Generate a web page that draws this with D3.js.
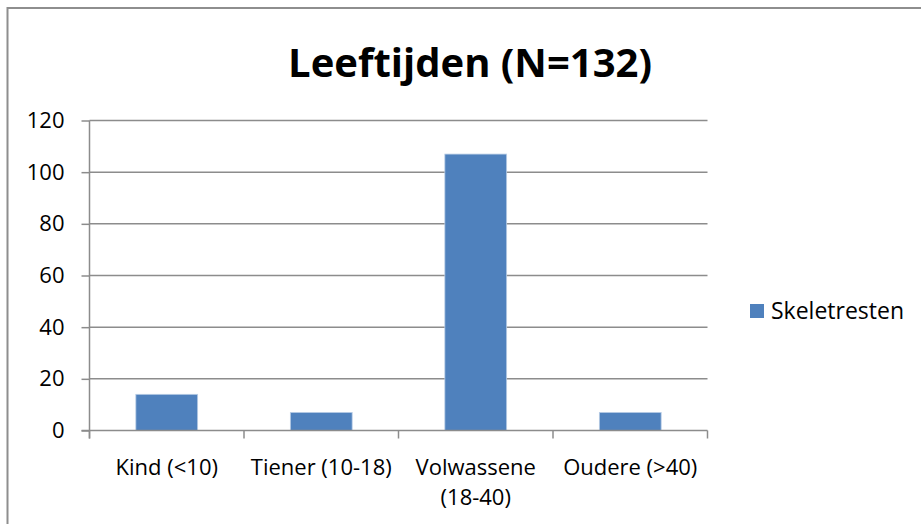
<!DOCTYPE html>
<html lang="nl">
<head>
	<meta charset="utf-8">
	<title>Leeftijden</title>
	<script src="https://d3js.org/d3.v7.min.js"></script>
	<style type="text/css">
		body { margin: 0; background: #fff; }
		text { font-family: "Open Sans", sans-serif; fill: #000; }
		.axis text { font-size: 22px; }
	</style>
</head>
<body>
	<script type="text/javascript">
	// data
	var categories = ["Kind (<10)", "Tiener (10-18)", "Volwassene (18-40)", "Oudere (>40)"]
	var values = [14, 7, 107, 7]
	var yTicks = [0, 20, 40, 60, 80, 100, 120]
	var seriesName = "Skeletresten"
	var title = "Leeftijden (N=132)"

	var barColor = "#4f81bd"
	var gridColor = "#8c8c8c"

	var w = 921, h = 524
	var plotLeft = 89.5, plotRight = 707.5, plotTop = 120.5, plotBottom = 430.5

	var svg = d3.select("body").append("svg")
		.attr("width", w)
		.attr("height", h)

	// outer frame
	svg.append("rect")
		.attr("x", 7.5).attr("y", 8)
		.attr("width", w + 10).attr("height", h + 10)
		.attr("fill", "none")
		.attr("stroke", "#8e8e8e")
		.attr("stroke-width", 2)

	var xScale = d3.scaleBand().domain(categories).range([plotLeft, plotRight]).paddingInner(0.6).paddingOuter(0.3)
	var xBand = d3.scaleBand().domain(categories).range([plotLeft, plotRight])
	var yScale = d3.scaleLinear().domain([0, 120]).range([plotBottom, plotTop])

	// gridlines
	svg.append("g")
		.selectAll("line")
		.data(yTicks.filter(d => d > 0))
		.enter()
		.append("line")
		.attr("x1", plotLeft).attr("x2", plotRight)
		.attr("y1", d => yScale(d)).attr("y2", d => yScale(d))
		.attr("stroke", gridColor)
		.attr("stroke-width", 1.5)

	// bars
	svg.append("g")
		.selectAll("rect")
		.data(values)
		.enter()
		.append("rect")
		.attr("x", (d, i) => xScale(categories[i]))
		.attr("y", d => yScale(d))
		.attr("width", xScale.bandwidth())
		.attr("height", d => plotBottom - yScale(d))
		.attr("fill", barColor)
		.attr("stroke", "#b9cde5")
		.attr("stroke-width", 0.8)

	// y axis
	var yAxis = d3.axisLeft(yScale).tickValues(yTicks).tickSize(8).tickPadding(17)
	var gy = svg.append("g")
		.attr("class", "axis")
		.attr("transform", "translate(" + plotLeft + ",0)")
		.call(yAxis)
	gy.select(".domain").remove()
	gy.selectAll("line").attr("stroke", gridColor).attr("stroke-width", 1.5)
	gy.selectAll("text").attr("fill", "#000")
	svg.append("line")
		.attr("x1", plotLeft).attr("x2", plotLeft)
		.attr("y1", plotTop).attr("y2", plotBottom + 8)
		.attr("stroke", gridColor).attr("stroke-width", 1.5)

	// x axis
	svg.append("line")
		.attr("x1", plotLeft - 8).attr("x2", plotRight)
		.attr("y1", plotBottom).attr("y2", plotBottom)
		.attr("stroke", gridColor).attr("stroke-width", 1.5)
	var tickXs = categories.map(c => xBand(c)).concat([plotRight])
	svg.append("g")
		.selectAll("line")
		.data(tickXs)
		.enter()
		.append("line")
		.attr("x1", d => d).attr("x2", d => d)
		.attr("y1", plotBottom).attr("y2", plotBottom + 8)
		.attr("stroke", gridColor).attr("stroke-width", 1.5)

	// x labels (Volwassene wraps)
	var labelLines = [["Kind (<10)"], ["Tiener (10-18)"], ["Volwassene", "(18-40)"], ["Oudere (>40)"]]
	var xl = svg.append("g").attr("class", "axis")
	labelLines.forEach(function(lines, i) {
		var cx = xBand(categories[i]) + xBand.bandwidth() / 2
		var t = xl.append("text")
			.attr("x", cx)
			.attr("y", 475)
			.attr("text-anchor", "middle")
		lines.forEach(function(l, j) {
			t.append("tspan")
				.attr("x", cx)
				.attr("dy", j === 0 ? 0 : 30)
				.text(l)
		})
	})

	// title
	svg.append("text")
		.attr("x", 470)
		.attr("y", 77)
		.attr("text-anchor", "middle")
		.style("font-size", "40px")
		.style("font-weight", "bold")
		.text(title)

	// legend
	svg.append("rect")
		.attr("x", 750).attr("y", 304)
		.attr("width", 14).attr("height", 14)
		.attr("fill", barColor)
	svg.append("text")
		.attr("x", 771).attr("y", 319)
		.style("font-size", "23px")
		.text(seriesName)
	</script>
</body>
</html>
